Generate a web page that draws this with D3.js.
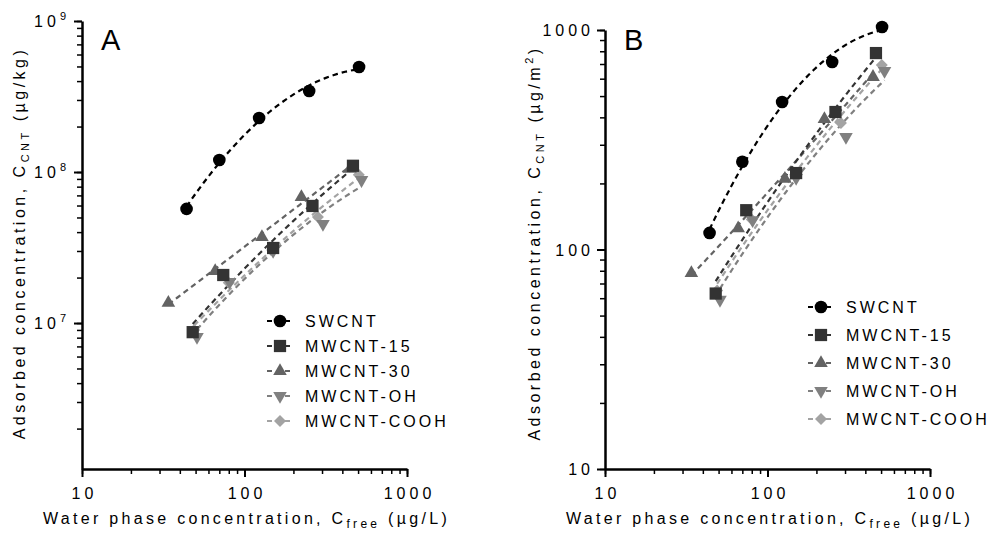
<!DOCTYPE html>
<html>
<head>
<meta charset="utf-8">
<script src="https://cdn.jsdelivr.net/npm/d3@7"></script>
<style>
  body { margin: 0; background: #fff; }
  svg { display: block; font-family: "Liberation Sans", Arial, sans-serif; }
</style>
</head>
<body>
<div id="chart"></div>
<script>
// Data (x = water phase conc., y = adsorbed conc.)
var seriesNames = ["SWCNT", "MWCNT-15", "MWCNT-30", "MWCNT-OH", "MWCNT-COOH"];
var cFree = [
  [44, 70, 123, 250, 507],
  [48, 74, 150, 262, 465],
  [34, 66, 128, 224, 446],
  [51, 81, 150, 304, 525],
  [49, 80, 148, 283, 505]
];
// panel A, ug/kg
var cMass = [
  [5.7e7, 1.2e8, 2.28e8, 3.44e8, 4.96e8],
  [8.7e6, 2.08e7, 3.14e7, 5.96e7, 1.10e8],
  [1.36e7, 2.21e7, 3.71e7, 6.83e7, 1.05e8],
  [8.1e6, 1.87e7, 3.0e7, 4.53e7, 8.85e7],
  [9.0e6, 1.85e7, 3.05e7, 5.03e7, 9.6e7]
];
// panel B, ug/m2
var cArea = [
  [119, 251, 470, 715, 1032],
  [63, 151, 223, 423, 785],
  [78, 125, 210, 393, 611],
  [59, 136, 212, 326, 651],
  [65, 137, 216, 377, 693]
];
var xTicks = [10, 100, 1000];
var yTicksA = [1e7, 1e8, 1e9];
var yTicksB = [10, 100, 1000];

var colors = ["#000000", "#333333", "#636363", "#808080", "#a3a3a3"];
var symbols = [d3.symbolCircle, d3.symbolSquare, d3.symbolTriangle, d3.symbolTriangle, d3.symbolSquare];
var symSizes = [125, 150, 80, 80, 72];
var symRot = [0, 0, 0, 180, 45];

// quadratic least-squares fit in log-log space (dashed fit curves)
function logFit(xs, ys) {
  var lx = xs.map(Math.log10), ly = ys.map(Math.log10);
  var S = [0, 0, 0, 0, 0], T = [0, 0, 0];
  lx.forEach(function(u, i) {
    for (var k = 0; k < 5; k++) S[k] += Math.pow(u, k);
    for (var k = 0; k < 3; k++) T[k] += Math.pow(u, k) * ly[i];
  });
  var M = [[S[0], S[1], S[2], T[0]], [S[1], S[2], S[3], T[1]], [S[2], S[3], S[4], T[2]]];
  for (var c = 0; c < 3; c++) {
    for (var r = c + 1; r < 3; r++) {
      var f = M[r][c] / M[c][c];
      for (var k = c; k < 4; k++) M[r][k] -= f * M[c][k];
    }
  }
  var b = [0, 0, 0];
  for (var r = 2; r >= 0; r--) {
    var s = M[r][3];
    for (var k = r + 1; k < 3; k++) s -= M[r][k] * b[k];
    b[r] = s / M[r][r];
  }
  var lo = d3.min(lx), hi = d3.max(lx);
  return d3.range(41).map(function(i) {
    var u = lo + (hi - lo) * i / 40;
    return [Math.pow(10, u), Math.pow(10, b[0] + b[1] * u + b[2] * u * u)];
  });
}

var svg = d3.select("#chart").append("svg")
  .attr("width", 990)
  .attr("height", 535);

var panels = [
  { key: "A", ys: cMass, x0: 82, x1: 407, yDomain: [1.08e6, 1e9], yRange: [469, 21], yTicks: yTicksA,
    sup: true, yTitleX: 25, yUnit: "(\u00b5g/kg)", legX: 280, legY: 321, legDy: 25 },
  { key: "B", ys: cArea, x0: 605, x1: 930, yDomain: [10, 1000], yRange: [469, 30], yTicks: yTicksB,
    sup: false, yTitleX: 540, yUnit: "(\u00b5g/m", legX: 821, legY: 307, legDy: 28 }
];

panels.forEach(function(p) {
  var g = svg.append("g");
  var x = d3.scaleLog().domain([10, 1000]).range([p.x0, p.x1]);
  var y = d3.scaleLog().domain(p.yDomain).range(p.yRange);

  // minor ticks
  g.append("g")
    .attr("transform", "translate(0," + p.yRange[0] + ")")
    .call(d3.axisBottom(x).tickValues(x.ticks()).tickSize(5).tickSizeOuter(0).tickFormat(""))
    .call(function(a) { a.select(".domain").remove(); a.selectAll("line").attr("stroke-width", 1.5); });
  g.append("g")
    .attr("transform", "translate(" + p.x0 + ",0)")
    .call(d3.axisLeft(y).tickValues(y.ticks()).tickSize(5).tickSizeOuter(0).tickFormat(""))
    .call(function(a) { a.select(".domain").remove(); a.selectAll("line").attr("stroke-width", 1.5); });

  // major ticks + axis lines
  var xAxis = g.append("g")
    .attr("transform", "translate(0," + p.yRange[0] + ")")
    .call(d3.axisBottom(x).tickValues(xTicks).tickSize(8).tickSizeOuter(0).tickFormat(""));
  var yAxis = g.append("g")
    .attr("transform", "translate(" + p.x0 + ",0)")
    .call(d3.axisLeft(y).tickValues(p.yTicks).tickSize(8).tickSizeOuter(0).tickFormat(""));
  [xAxis, yAxis].forEach(function(a) {
    a.select(".domain").attr("stroke-width", 2.5);
    a.selectAll("line").attr("stroke-width", 2);
  });

  xAxis.selectAll(".tick").append("text")
    .attr("y", 30)
    .attr("fill", "#000")
    .attr("font-size", 16)
    .attr("letter-spacing", 4)
    .attr("text-anchor", "middle")
    .attr("dx", 2)
    .text(function(d) { return d; });

  var yLab = yAxis.selectAll(".tick").append("text")
    .attr("fill", "#000")
    .attr("font-size", 16)
    .attr("letter-spacing", 4)
    .attr("text-anchor", "end")
    .attr("dy", "0.35em");
  if (p.sup) {
    yLab.attr("x", -12);
    yLab.append("tspan").text("10");
    yLab.append("tspan")
      .attr("font-size", 11)
      .attr("dy", -7)
      .text(function(d) { return Math.round(Math.log10(d)); });
  } else {
    yLab.attr("x", -11).text(function(d) { return d; });
  }

  // panel letter
  g.append("text")
    .attr("x", p.x0 + 19)
    .attr("y", 50)
    .attr("font-size", 29)
    .text(p.key);

  // x title
  var xt = g.append("text")
    .attr("x", (p.x0 + p.x1) / 2 + 2)
    .attr("y", 524)
    .attr("font-size", 16)
    .attr("letter-spacing", 3.3)
    .attr("text-anchor", "middle");
  xt.append("tspan").text("Water phase concentration, C");
  xt.append("tspan").attr("font-size", 12).attr("dy", 4).text("free");
  xt.append("tspan").attr("dy", -4).text(" (\u00b5g/L)");

  // y title
  var yt = g.append("text")
    .attr("transform", "translate(" + p.yTitleX + ",243) rotate(-90)")
    .attr("font-size", 16)
    .attr("letter-spacing", 3.5)
    .attr("text-anchor", "middle");
  yt.append("tspan").text("Adsorbed concentration, C");
  yt.append("tspan").attr("font-size", 11).attr("dy", 4).text("CNT");
  yt.append("tspan").attr("dy", -4).text(" " + p.yUnit);
  if (!p.sup) {
    yt.append("tspan").attr("font-size", 11).attr("dy", -7).text("2");
    yt.append("tspan").attr("dy", 7).text(")");
  }

  var line = d3.line()
    .x(function(d) { return x(d[0]); })
    .y(function(d) { return y(d[1]); });

  // series drawn in reverse so darker markers end up on top
  for (var i = seriesNames.length - 1; i >= 0; i--) {
    g.append("path")
      .datum(logFit(cFree[i], p.ys[i]))
      .attr("d", line)
      .attr("fill", "none")
      .attr("stroke", colors[i])
      .attr("stroke-width", 2.2)
      .attr("stroke-dasharray", "5.5,4");
  }
  for (var i = seriesNames.length - 1; i >= 0; i--) {
    var pts = cFree[i].map(function(v, j) { return [v, p.ys[i][j]]; });
    g.selectAll(null)
      .data(pts)
      .enter()
      .append("path")
      .attr("transform", function(d) { return "translate(" + x(d[0]) + "," + y(d[1]) + ") rotate(" + symRot[i] + ")"; })
      .attr("d", d3.symbol().type(symbols[i]).size(symSizes[i]))
      .attr("fill", colors[i]);
  }

  // legend
  var leg = g.append("g");
  seriesNames.forEach(function(name, i) {
    var ly = p.legY + i * p.legDy;
    leg.append("line")
      .attr("x1", p.legX - 13).attr("x2", p.legX + 11)
      .attr("y1", ly).attr("y2", ly)
      .attr("stroke", colors[i])
      .attr("stroke-width", 2)
      .attr("stroke-dasharray", "5,4");
    leg.append("path")
      .attr("transform", "translate(" + p.legX + "," + ly + ") rotate(" + symRot[i] + ")")
      .attr("d", d3.symbol().type(symbols[i]).size(symSizes[i]))
      .attr("fill", colors[i]);
    leg.append("text")
      .attr("x", p.legX + 25)
      .attr("y", ly)
      .attr("dy", "0.35em")
      .attr("font-size", 16)
      .attr("letter-spacing", 3)
      .text(name);
  });
});
</script>
</body>
</html>
